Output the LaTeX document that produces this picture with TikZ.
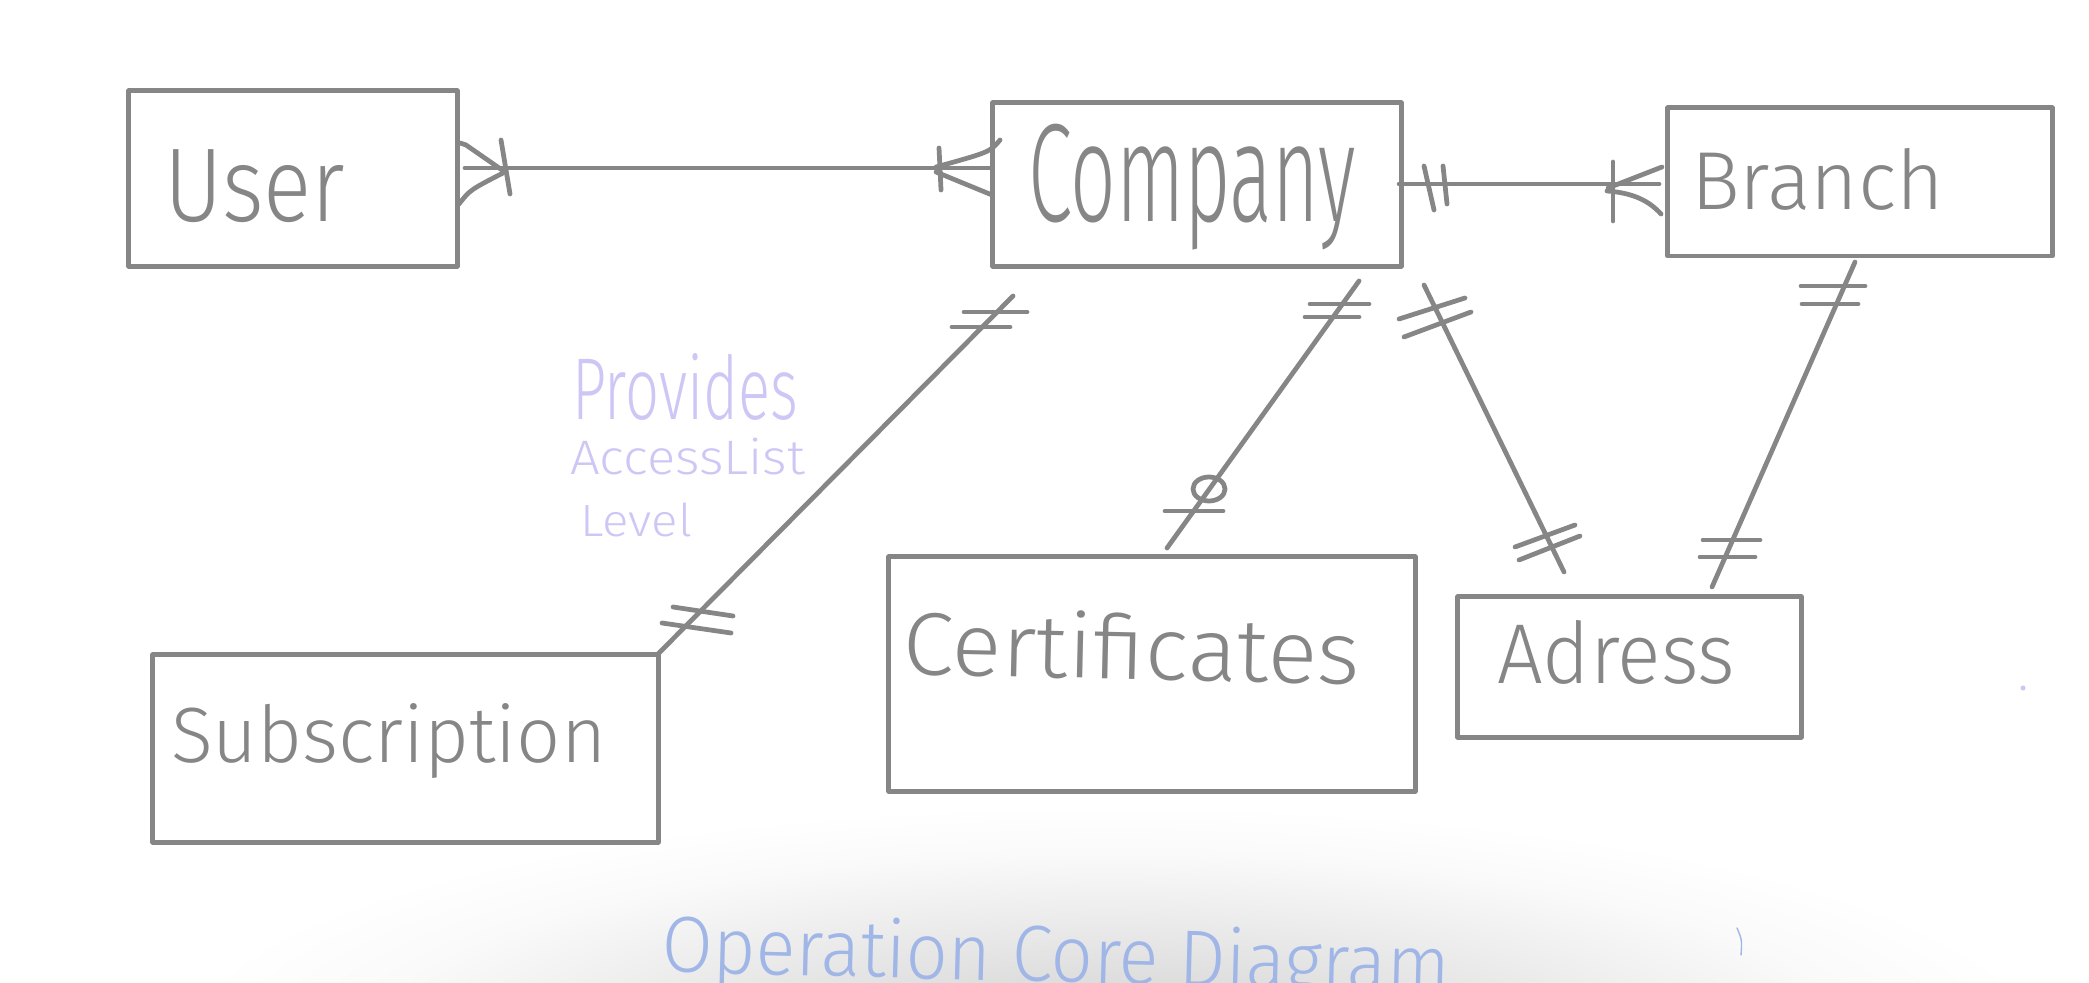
\documentclass[tikz,border=0pt]{standalone}
\usepackage{fontspec}
\usepackage{graphicx}
\newfontfamily\hw{Fira Sans Light}
\definecolor{ink}{RGB}{134,134,134}
\definecolor{lav}{RGB}{206,198,245}
\definecolor{blu}{RGB}{160,182,230}
\pgfdeclareradialshading{botshade}{\pgfpointorigin}{color(0bp)=(black!16); color(7bp)=(black!13); color(14bp)=(black!7); color(20bp)=(black!2); color(25bp)=(white); color(50bp)=(white)}
\newcommand\hwtext[3]{\resizebox*{#1}{#2}{\hw #3}}
\begin{document}
\begin{tikzpicture}[x=0.01cm,y=-0.01cm,line cap=round,line join=round,
  ebox/.style={draw=ink,line width=1.4pt,rectangle,inner sep=0pt,outer sep=0pt},
  conn/.style={draw=ink,line width=1.35pt},
  mk/.style={draw=ink,line width=1.35pt},
  txt/.style={inner sep=0pt,outer sep=0pt,anchor=north west,text=ink},
  note/.style={inner sep=0pt,outer sep=0pt,anchor=north west,text=lav},
  title/.style={inner sep=0pt,outer sep=0pt,anchor=north west,text=blu}]
\useasboundingbox (0,0) rectangle (2089,983);
\begin{scope}
\clip (0,0) rectangle (2089,983);
\shade[shading=botshade] (1110,1045) ellipse [x radius=9.4cm, y radius=2.4cm];
\end{scope}

% entity boxes
\node[ebox,minimum width=3.28cm,minimum height=1.75cm] (user) at (293,178.5) {};
\node[ebox,minimum width=4.08cm,minimum height=1.63cm] (company) at (1197,184.5) {};
\node[ebox,minimum width=3.84cm,minimum height=1.48cm] (branch) at (1860,182) {};
\node[ebox,minimum width=5.05cm,minimum height=1.87cm] (subscription) at (405.5,748.5) {};
\node[ebox,minimum width=5.26cm,minimum height=2.34cm] (certificates) at (1152,674) {};
\node[ebox,minimum width=3.43cm,minimum height=1.40cm] (adress) at (1629.5,667) {};

% entity labels
\node[txt] (userT) at (164,150) {\hwtext{1.81cm}{0.73cm}{User}};
\node[txt] (companyT) at (1028,124) {\hwtext{3.28cm}{1.26cm}{Company}};
\node[txt] (branchT) at (1691,148) {\hwtext{2.53cm}{0.62cm}{Branch}};
\node[txt] (subscriptionT) at (171,703) {\hwtext{4.35cm}{0.75cm}{Subscription}};
\node[txt,rotate=-1.3] (certificatesT) at (904,607) {\hwtext{4.57cm}{0.68cm}{Certificates}};
\node[txt] (adressT) at (1497,620) {\hwtext{2.38cm}{0.64cm}{Adress}};

% note
\node[note] (n1) at (572,353) {\hwtext{2.26cm}{0.67cm}{Provides}};
\node[note] (n2) at (570,438) {\hwtext{2.35cm}{0.37cm}{AccessList}};
\node[note] (n3) at (580,503) {\hwtext{1.12cm}{0.34cm}{Level}};

% title
\node[title,rotate=-1.5] (titleT) at (663,912) {\hwtext{7.88cm}{0.76cm}{Operation Core Diagram}};

% connector end points
\coordinate (ucA) at (465,168);  \coordinate (ucB) at (989,168);
\coordinate (cbA) at (1399,184); \coordinate (cbB) at (1659,184);
\coordinate (csA) at (1013,296); \coordinate (csB) at (658,654);
\coordinate (ccA) at (1359,281); \coordinate (ccB) at (1167,548);
\coordinate (caA) at (1424,285); \coordinate (caB) at (1564,572);
\coordinate (baA) at (1855,262); \coordinate (baB) at (1712,587);

\draw[conn] (ucA) -- (ucB);
\draw[conn] (cbA) -- (cbB);
\draw[conn] (csA) -- (csB);
\draw[conn] (ccA) -- (ccB);
\draw[conn] (caA) -- (caB);
\draw[conn] (baA) -- (baB);

% User -- Company : one-and-many at both ends
\draw[mk] (460,143) -- (466,145) -- (502,170);
\draw[mk] (459,204) .. controls (470,190) .. (503,173);
\draw[mk] (501,140) -- (510,194);
\draw[mk] (1000,140) .. controls (990,152) .. (936,167);
\draw[mk] (992,195) -- (936,172);
\draw[mk] (939,148) -- (941,190);

% Company -- Branch : one-and-only-one to one-and-many
\draw[mk] (1424,166) -- (1434,210);
\draw[mk] (1443,166) -- (1447,204);
\draw[mk] (1613,162) -- (1613,221);
\draw[mk] (1662,167) -- (1608,188);
\draw[mk] (1607,191) .. controls (1635,193) and (1650,202) .. (1661,214);

% Company -- Subscription
\draw[mk] (964,312) -- (1027,312);
\draw[mk] (952,327) -- (1010,327);
\draw[mk] (673,607) -- (733,616);
\draw[mk] (662,623) -- (731,633);

% Company -- Certificates
\draw[mk] (1310,304) -- (1369,304);
\draw[mk] (1305,317) -- (1359,317);
\draw[mk] (1209,489) ellipse [x radius=0.16cm, y radius=0.12cm];
\draw[mk] (1165,511) -- (1223,511);

% Company -- Adress
\draw[mk] (1399,319) -- (1465,298);
\draw[mk] (1404,337) -- (1471,312);
\draw[mk] (1515,547) -- (1575,525);
\draw[mk] (1519,560) -- (1580,536);

% Branch -- Adress
\draw[mk] (1801,286) -- (1865,286);
\draw[mk] (1802,304) -- (1858,304);
\draw[mk] (1703,540) -- (1760,540);
\draw[mk] (1700,557) -- (1755,557);

% stray marks
\draw[blu,line width=0.4pt] (1737,928) .. controls (1742,940) .. (1741,955);
\fill[lav] (2023,688) circle [radius=0.025cm];
\end{tikzpicture}
\end{document}
